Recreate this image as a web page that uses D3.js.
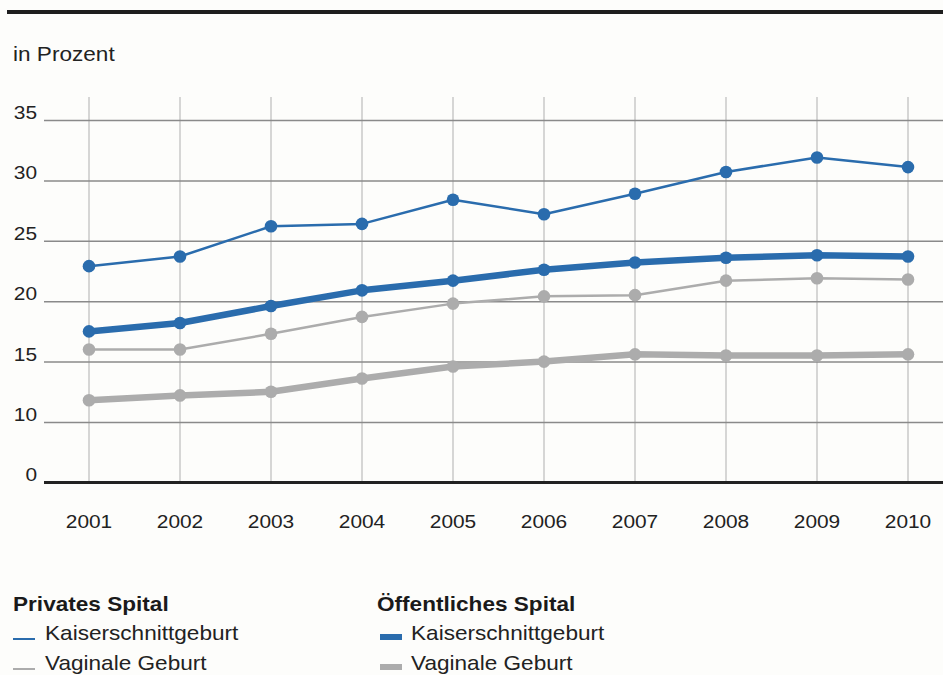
<!DOCTYPE html>
<html>
<head>
<meta charset="utf-8">
<script src="https://cdn.jsdelivr.net/npm/d3@7"></script>
<style>
  body { margin: 0; background: #fdfdfb; font-family: "Liberation Sans", Arial, sans-serif; }
  svg { display: block; }
</style>
</head>
<body>
<div id="chart"></div>
<script>
// data
var years = ["2001", "2002", "2003", "2004", "2005", "2006", "2007", "2008", "2009", "2010"];
var yTicks = [0, 10, 15, 20, 25, 30, 35];
var privKaiser = [22.9, 23.7, 26.2, 26.4, 28.4, 27.2, 28.9, 30.7, 31.9, 31.1];
var privVaginal = [16.0, 16.0, 17.3, 18.7, 19.8, 20.4, 20.5, 21.7, 21.9, 21.8];
var oeffKaiser = [17.5, 18.2, 19.6, 20.9, 21.7, 22.6, 23.2, 23.6, 23.8, 23.7];
var oeffVaginal = [11.8, 12.2, 12.5, 13.6, 14.6, 15.0, 15.6, 15.5, 15.5, 15.6];

var blue = "#2a6cad";
var grey = "#acacac";
// the source font is a bit wider than Liberation Sans
var stretch = 1.13;

var series = [
  { name: "oeffVaginal", values: oeffVaginal, color: grey, width: 6.5 },
  { name: "privVaginal", values: privVaginal, color: grey, width: 2.5 },
  { name: "oeffKaiser", values: oeffKaiser, color: blue, width: 6.5 },
  { name: "privKaiser", values: privKaiser, color: blue, width: 2.5 }
];

var svgWidth = 943, svgHeight = 675;
var svg = d3.select("#chart").append("svg")
  .attr("width", svgWidth)
  .attr("height", svgHeight);

function label(parent, x, y, txt, size, anchor, bold) {
  return parent.append("text")
    .attr("transform", `translate(${x},${y}) scale(${stretch},1)`)
    .attr("text-anchor", anchor || "start")
    .attr("font-size", size)
    .attr("font-weight", bold ? "bold" : "normal")
    .attr("fill", bold ? "#1a1a1a" : "#222")
    .text(txt);
}

// top rule
svg.append("rect")
  .attr("x", 7).attr("y", 10)
  .attr("width", 936).attr("height", 4)
  .attr("fill", "#1e1e1e");

label(svg, 13, 61, "in Prozent", 20);

// x: point scale over years, y: broken axis (0 then 10..35)
var x = d3.scalePoint().domain(years).range([89, 908]);
var y = d3.scaleLinear().domain([0, 10, 35]).range([482, 422, 120]);

// vertical grid
svg.append("g").selectAll("line")
  .data(years)
  .enter().append("line")
  .attr("x1", d => x(d)).attr("x2", d => x(d))
  .attr("y1", 97).attr("y2", 482)
  .attr("stroke", "#c8c8c8")
  .attr("stroke-width", 1.5);

// horizontal grid
var yAxis = svg.append("g")
  .attr("transform", "translate(44,0)")
  .call(d3.axisRight(y).tickValues(yTicks).tickSize(899).tickFormat(""));
yAxis.select(".domain").remove();
yAxis.selectAll(".tick line")
  .attr("stroke", d => d === 0 ? "#222" : "#8a8a8a")
  .attr("stroke-width", d => d === 0 ? 3 : 1.5);

// y labels
yTicks.forEach(function(t) {
  label(svg, 37, y(t) - 1, String(t), 18.5, "end");
});

// x labels
years.forEach(function(yr) {
  label(svg, x(yr), 528, yr, 18.5, "middle");
});

// lines and points
var line = d3.line()
  .x((d, i) => x(years[i]))
  .y(d => y(d));

series.forEach(function(s) {
  svg.append("path")
    .datum(s.values)
    .attr("fill", "none")
    .attr("stroke", s.color)
    .attr("stroke-width", s.width)
    .attr("stroke-linejoin", "round")
    .attr("d", line);
  svg.append("g").selectAll("circle")
    .data(s.values)
    .enter().append("circle")
    .attr("cx", (d, i) => x(years[i]))
    .attr("cy", d => y(d))
    .attr("r", 6.3)
    .attr("fill", s.color);
});

// legend
var legend = [
  { x: 13, tx: 45, title: "Privates Spital", items: [
    { label: "Kaiserschnittgeburt", color: blue, h: 2 },
    { label: "Vaginale Geburt", color: grey, h: 2 } ] },
  { x: 377, sx: 380, tx: 411, title: "Öffentliches Spital", items: [
    { label: "Kaiserschnittgeburt", color: blue, h: 6 },
    { label: "Vaginale Geburt", color: grey, h: 6 } ] }
];

legend.forEach(function(col) {
  label(svg, col.x, 611, col.title, 20, "start", true);
  col.items.forEach(function(it, i) {
    var cy = 640 + i * 30;
    svg.append("rect")
      .attr("x", col.sx || col.x).attr("y", cy - it.h)
      .attr("width", 22).attr("height", it.h)
      .attr("fill", it.color);
    label(svg, col.tx, cy, it.label, 20);
  });
});
</script>
</body>
</html>
